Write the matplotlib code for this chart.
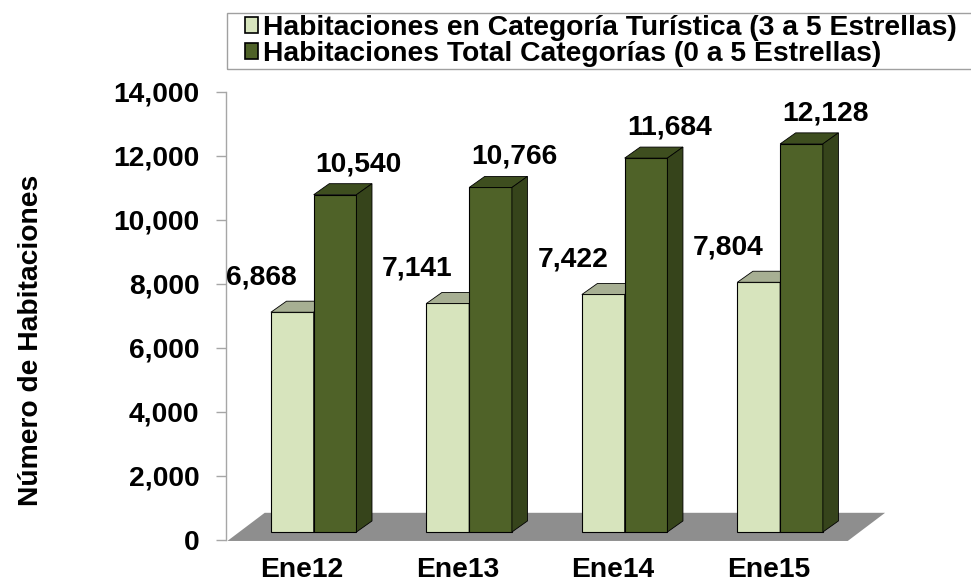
import matplotlib
matplotlib.use("Agg")
import matplotlib.pyplot as plt
from matplotlib.patches import Polygon, Rectangle
from matplotlib.ticker import FuncFormatter

# data
periods = ["Ene12", "Ene13", "Ene14", "Ene15"]
turisticas = [6868, 7141, 7422, 7804]
totales = [10540, 10766, 11684, 12128]
series_names = ["Habitaciones en Categoría Turística (3 a 5 Estrellas)",
                "Habitaciones Total Categorías (0 a 5 Estrellas)"]

plt.rcParams['font.family'] = ['Liberation Sans', 'DejaVu Sans']
plt.rcParams['font.weight'] = 'bold'
FS = 20.3

LIGHT, LIGHT_TOP, LIGHT_SIDE = '#D7E4BD', '#A7AF93', '#9BA383'
DARK, DARK_TOP, DARK_SIDE = '#4F6228', '#3E4E1F', '#36441B'
FLOOR = '#8E8E8E'

base = 250          # bars stand on the floor, a bit above the 0 line
w = 0.275           # bar width
dx, dy = 0.10, 345  # 3D depth offsets

fig = plt.figure(figsize=(9.71, 5.86), dpi=100)
ax = fig.add_axes([226/971, (586-540)/586, (900-226)/971, 448/586])
ax.set_xlim(-0.489, 3.846)
ax.set_ylim(0, 14000)

# floor
floor = Polygon([(-0.48, -30), (3.51, -30), (3.75, 850), (-0.24, 850)],
                closed=True, facecolor=FLOOR, edgecolor='none', zorder=1, clip_on=False)
ax.add_patch(floor)


def bar3d(x0, h, front, top, side, z):
    ax.bar([x0], [h], width=w, bottom=base, align='edge', color=front,
           edgecolor='black', linewidth=0.8, zorder=z)
    y1 = base + h
    ax.add_patch(Polygon([(x0, y1), (x0 + w, y1), (x0 + w + dx, y1 + dy), (x0 + dx, y1 + dy)],
                         closed=True, facecolor=top, edgecolor='black', linewidth=0.6,
                         zorder=z, clip_on=False))
    ax.add_patch(Polygon([(x0 + w, base), (x0 + w + dx, base + dy), (x0 + w + dx, y1 + dy), (x0 + w, y1)],
                         closed=True, facecolor=side, edgecolor='black', linewidth=0.6,
                         zorder=z, clip_on=False))


for i in range(len(periods)):
    xl = i - 0.2
    xd = xl + w
    bar3d(xl, turisticas[i], LIGHT, LIGHT_TOP, LIGHT_SIDE, 2 + 2*i)
    bar3d(xd, totales[i], DARK, DARK_TOP, DARK_SIDE, 3 + 2*i)
    ax.annotate(f"{turisticas[i]:,}", (xl + w/2, base + turisticas[i]),
                xytext=(-22, 25), textcoords='offset points', ha='center', va='center',
                fontsize=FS, fontweight='bold', zorder=20)
    ax.annotate(f"{totales[i]:,}", (xd + w/2, base + totales[i]),
                xytext=(17, 22), textcoords='offset points', ha='center', va='center',
                fontsize=FS, fontweight='bold', zorder=20)

# axes styling
for s in ['top', 'right', 'bottom']:
    ax.spines[s].set_visible(False)
ax.spines['left'].set_color('#A6A6A6')
ax.spines['left'].set_linewidth(1)
ax.set_yticks(range(0, 14001, 2000))
ax.yaxis.set_major_formatter(FuncFormatter(lambda v, p: f"{int(v):,}"))
ax.tick_params(axis='y', length=7, width=1, color='#A6A6A6', pad=12, labelsize=FS)
ax.set_xticks(range(len(periods)))
ax.set_xticklabels(periods)
ax.tick_params(axis='x', length=0, pad=12, labelsize=FS)
ax.set_ylabel("Número de Habitaciones", fontsize=FS, fontweight='bold', labelpad=0)
ax.yaxis.set_label_coords(-(226-44)/674, (540-340)/448)

# legend: frame runs off the right edge, entries indented
fig.patches.append(Rectangle((227/971, 1 - 69/586), 760/971, 56/586,
                             transform=fig.transFigure, fill=False,
                             edgecolor='#A0A0A0', linewidth=1))
handles = [plt.Rectangle((0, 0), 1, 1, facecolor=LIGHT, edgecolor='black', linewidth=1.2),
           plt.Rectangle((0, 0), 1, 1, facecolor=DARK, edgecolor='black', linewidth=1.2)]
leg = fig.legend(handles, series_names, loc='upper left',
                 bbox_to_anchor=(245/971, 1 - 15/586), fontsize=FS, frameon=False,
                 handlelength=0.45, handleheight=0.45, handletextpad=0.2,
                 borderpad=0.0, labelspacing=0.0, borderaxespad=0)
for t in leg.get_texts():
    t.set_fontweight('bold')

fig.savefig("out.png", dpi=100)
